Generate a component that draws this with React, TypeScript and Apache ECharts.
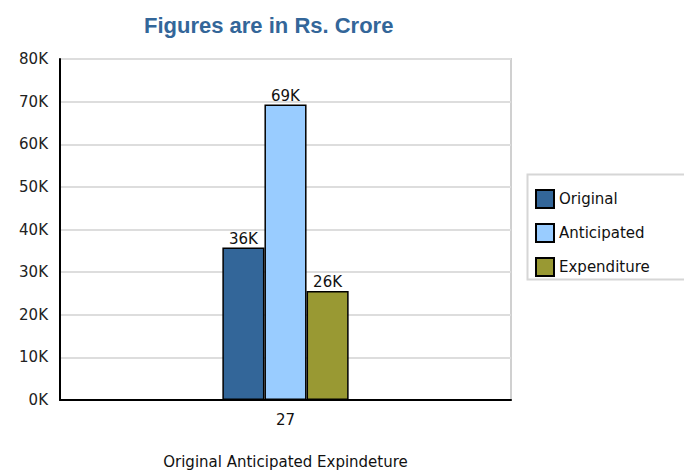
import React, { useEffect, useRef } from "react";
import * as echarts from "echarts";

const categories = ["27"];
const seriesNames = ["Original", "Anticipated", "Expenditure"];
const originalValues = [35800];
const anticipatedValues = [69300];
const expenditureValues = [25600];
const seriesColors = ["#336699", "#99ccff", "#999933"];
const titleText = "Figures are in Rs. Crore";
const xAxisName = "Original Anticipated Expindeture";

const FONT = "DejaVu Sans";

export default function App() {
  const ref = useRef<HTMLDivElement>(null);
  useEffect(() => {
    if (!ref.current) return;
    const chart = echarts.init(ref.current, null, { renderer: "svg" });
    const values = [originalValues, anticipatedValues, expenditureValues];
    chart.setOption({
      animation: false,
      backgroundColor: "#ffffff",
      title: {
        text: titleText,
        left: 139,
        top: 9,
        textStyle: {
          fontFamily: "Liberation Sans",
          fontWeight: "bold",
          fontSize: 22,
          color: "#336699",
        },
      },
      legend: {
        orient: "vertical",
        left: 535,
        top: 189,
        padding: 0,
        itemWidth: 18,
        itemHeight: 18,
        itemGap: 14,
        icon: "rect",
        data: seriesNames,
        textStyle: { fontFamily: FONT, fontSize: 15, color: "#111" },
      },
      graphic: [
        {
          type: "rect",
          left: 525,
          top: 172,
          shape: { width: 170, height: 105 },
          style: { fill: "none", stroke: "#d6d6d6", lineWidth: 2 },
        },
      ],
      grid: {
        left: 60,
        right: 173,
        top: 59,
        bottom: 72,
        show: true,
        borderColor: "#d0d0d0",
        borderWidth: 2,
      },
      xAxis: {
        type: "category",
        data: categories,
        name: xAxisName,
        nameLocation: "middle",
        nameGap: 54,
        nameTextStyle: { fontFamily: FONT, fontSize: 15, color: "#111" },
        axisLine: { lineStyle: { color: "#000", width: 2 } },
        axisTick: { show: false },
        axisLabel: { fontFamily: FONT, fontSize: 15, color: "#111", margin: 12 },
      },
      yAxis: {
        type: "value",
        min: 0,
        max: 80000,
        interval: 10000,
        axisLine: { show: true, lineStyle: { color: "#000", width: 2 } },
        axisTick: { show: false },
        splitLine: { lineStyle: { color: "#dddddd", width: 2 } },
        axisLabel: {
          fontFamily: FONT,
          fontSize: 15,
          color: "#222",
          margin: 12,
          formatter: (v: number) => v / 1000 + "K",
        },
      },
      series: seriesNames.map((name, i) => ({
        name,
        type: "bar",
        data: values[i],
        barGap: "0%",
        barCategoryGap: "72%",
        itemStyle: { color: seriesColors[i], borderColor: "#000", borderWidth: 1.5 },
        label: {
          show: true,
          position: "top",
          distance: 1,
          fontFamily: FONT,
          fontSize: 15,
          color: "#111",
          formatter: (p: any) => Math.round(p.value / 1000) + "K",
        },
      })),
    });
    return () => chart.dispose();
  }, []);
  return (
    <div
      ref={ref}
      style={{ position: "fixed", left: 0, top: 0, width: 684, height: 474 }}
    />
  );
}
